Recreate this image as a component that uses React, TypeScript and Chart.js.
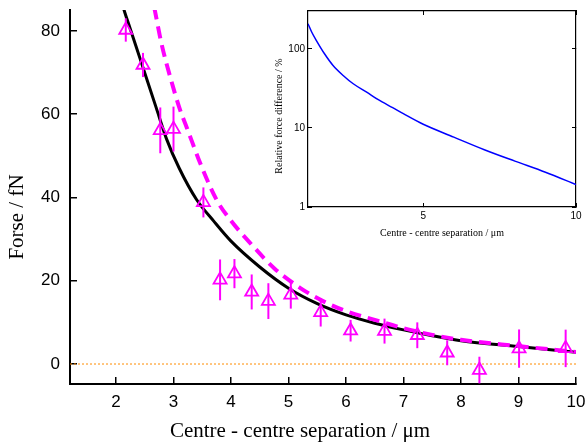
import React, { useEffect, useRef } from 'react';
import { Chart, registerables } from 'chart.js';

Chart.register(...registerables);

// ---- Main chart data ----
const sepX = [2.17, 2.47, 2.77, 3.0, 3.52, 3.81, 4.06, 4.36, 4.65, 5.04, 5.56, 6.08, 6.67, 7.24, 7.76, 8.32, 9.01, 9.82];
const forceY = [80.2, 71.8, 56.1, 56.4, 38.8, 20.2, 21.7, 17.3, 15.1, 16.6, 12.4, 8.0, 7.9, 6.9, 2.7, -1.45, 3.7, 3.75];
const forceErr = [2.8, 2.9, 5.5, 5.4, 3.6, 4.9, 3.5, 4.2, 4.3, 3.3, 3.4, 2.6, 3.0, 3.1, 3.0, 3.2, 4.6, 4.5];

const fitX = [2.1, 2.14, 2.24, 2.45, 2.7, 2.88, 3.1, 3.4, 3.7, 4.0, 4.5, 5.0, 5.5, 6.0, 6.5, 7.0, 7.5, 8.0, 9.0, 10.0];
const fitY = [87, 85, 80.8, 72, 61.5, 54, 47, 39.5, 34.3, 29.5, 23.3, 18.2, 14.5, 11.8, 9.8, 8.2, 6.8, 5.6, 4.2, 2.8];

const altX = [2.6, 2.66, 2.79, 2.97, 3.11, 3.23, 3.5, 3.75, 4.0, 4.35, 4.75, 5.2, 5.6, 6.0, 6.5, 7.0, 7.5, 8.0, 9.0, 10.0];
const altY = [90, 86, 77, 67.6, 61.2, 56.8, 47, 39.4, 34.4, 28.8, 23, 18.3, 15.1, 12.7, 10.6, 8.6, 7.0, 5.8, 4.3, 2.9];

const zeroLineY = 0;
const xTicks = [2, 3, 4, 5, 6, 7, 8, 9, 10];
const yTicks = [0, 20, 40, 60, 80];
const xRange = [1.2, 10];
const yRange = [-4.8, 85];

// ---- Inset data ----
const insetX = [1.23, 1.35, 1.505, 1.77, 2.05, 2.38, 2.71, 3.15, 3.53, 4.0, 4.35, 5.0, 6.0, 7.0, 8.0, 9.0, 10.0];
const insetY = [207, 163, 127, 86.5, 61.5, 46, 36.1, 28.3, 22.7, 18.0, 15.1, 11.1, 7.65, 5.3, 3.8, 2.75, 1.92];
const insetXTicks = [5, 10];
const insetYTicks = [1, 10, 100];
const insetXRange = [1.23, 10];
const insetYRange = [1, 300];

const MAGENTA = '#ff00ff';
const SANS = "'Liberation Sans', Arial, sans-serif";
const SERIF = "'Liberation Serif', 'Times New Roman', serif";

const errorBarPlugin = {
  id: 'errorBars',
  afterDatasetsDraw(chart: any) {
    const { ctx, scales } = chart;
    const x = scales.x;
    const y = scales.y;
    ctx.save();
    ctx.strokeStyle = MAGENTA;
    ctx.lineWidth = 2;
    sepX.forEach((v, i) => {
      const px = x.getPixelForValue(v);
      ctx.beginPath();
      ctx.moveTo(px, y.getPixelForValue(forceY[i] - forceErr[i]));
      ctx.lineTo(px, y.getPixelForValue(forceY[i] + forceErr[i]));
      ctx.stroke();
    });
    ctx.restore();
  },
};

// Axis titles placed where the original figure has them
const axisTitlesPlugin = {
  id: 'axisTitles',
  afterDraw(chart: any, _args: any, opts: any) {
    const items = (opts && opts.items) || [];
    const ctx = chart.ctx;
    items.forEach((it: any) => {
      ctx.save();
      ctx.translate(it.x, it.y);
      if (it.vertical) ctx.rotate(-Math.PI / 2);
      ctx.font = it.font;
      ctx.fillStyle = '#000';
      ctx.textAlign = 'center';
      ctx.textBaseline = 'middle';
      ctx.fillText(it.text, 0, 0);
      ctx.restore();
    });
  },
};

const pts = (xs: number[], ys: number[]) => xs.map((v, i) => ({ x: v, y: ys[i] }));

const fixSize = (w: number | null, h: number | null) => (s: any) => {
  if (w !== null) s.width = w;
  if (h !== null) s.height = h;
  s.paddingTop = 0;
  s.paddingBottom = 0;
  s.paddingLeft = 0;
  s.paddingRight = 0;
};

export default function App() {
  const mainRef = useRef<HTMLCanvasElement>(null);
  const insetRef = useRef<HTMLCanvasElement>(null);

  useEffect(() => {
    const main = new Chart(mainRef.current as HTMLCanvasElement, {
      type: 'line',
      data: {
        datasets: [
          {
            data: pts(sepX, forceY),
            showLine: false,
            pointStyle: 'triangle',
            pointRadius: 7.5,
            pointBorderWidth: 1.8,
            pointBorderColor: MAGENTA,
            pointBackgroundColor: 'rgba(0,0,0,0)',
            borderColor: MAGENTA,
            order: 0,
          },
          {
            data: pts(altX, altY),
            borderColor: MAGENTA,
            borderWidth: 4,
            borderDash: [12, 7],
            pointRadius: 0,
            cubicInterpolationMode: 'monotone',
            fill: false,
            order: 1,
          },
          {
            data: pts(fitX, fitY),
            borderColor: '#000',
            borderWidth: 3,
            pointRadius: 0,
            cubicInterpolationMode: 'monotone',
            fill: false,
            order: 2,
          },
          {
            data: [
              { x: xRange[0], y: zeroLineY },
              { x: xRange[1], y: zeroLineY },
            ],
            borderColor: '#ff8c00',
            borderWidth: 1,
            borderDash: [2, 2],
            pointRadius: 0,
            fill: false,
            order: 3,
          },
        ],
      } as any,
      options: {
        animation: false,
        responsive: false,
        layout: { padding: { top: 10, right: 11, left: 0, bottom: 0 } },
        plugins: {
          legend: { display: false },
          tooltip: { enabled: false },
          axisTitles: {
            items: [
              { text: 'Forse / fN', x: 17, y: 217, vertical: true, font: `21px ${SERIF}` },
              { text: 'Centre - centre separation / μm', x: 300, y: 431, vertical: false, font: `21px ${SERIF}` },
            ],
          },
        } as any,
        scales: {
          x: {
            type: 'linear',
            min: xRange[0],
            max: xRange[1],
            afterBuildTicks: (s: any) => {
              s.ticks = xTicks.map((v) => ({ value: v }));
            },
            afterFit: fixSize(null, 62),
            grid: { drawOnChartArea: false, tickLength: -7, color: '#000', lineWidth: 1.5 },
            border: { display: true, color: '#000', width: 2 },
            ticks: {
              color: '#000',
              font: { family: SANS, size: 17 },
              padding: 15,
              maxRotation: 0,
              autoSkip: false,
              callback: (v: any) => String(v),
            },
          },
          y: {
            type: 'linear',
            min: yRange[0],
            max: yRange[1],
            afterBuildTicks: (s: any) => {
              s.ticks = yTicks.map((v) => ({ value: v }));
            },
            afterFit: fixSize(70, null),
            grid: { drawOnChartArea: false, tickLength: -7, color: '#000', lineWidth: 1.5 },
            border: { display: true, color: '#000', width: 2 },
            ticks: {
              color: '#000',
              font: { family: SANS, size: 17 },
              padding: 17,
              callback: (v: any) => String(v),
            },
          },
        },
      } as any,
      plugins: [errorBarPlugin, axisTitlesPlugin],
    });

    const mirrorGrid = { drawOnChartArea: false, tickLength: -4, color: '#000', lineWidth: 1 };
    const inset = new Chart(insetRef.current as HTMLCanvasElement, {
      type: 'line',
      data: {
        datasets: [
          {
            data: pts(insetX, insetY),
            borderColor: '#0000ff',
            borderWidth: 1.5,
            pointRadius: 0,
            cubicInterpolationMode: 'monotone',
            fill: false,
          },
        ],
      } as any,
      options: {
        animation: false,
        responsive: false,
        layout: { padding: { top: 11, right: 11, left: 0, bottom: 0 } },
        plugins: {
          legend: { display: false },
          tooltip: { enabled: false },
          axisTitles: {
            items: [
              { text: 'Relative force difference / %', x: 9, y: 116, vertical: true, font: `10px ${SERIF}` },
            ],
          },
        } as any,
        scales: {
          x: {
            type: 'linear',
            position: 'bottom',
            min: insetXRange[0],
            max: insetXRange[1],
            afterBuildTicks: (s: any) => {
              s.ticks = insetXTicks.map((v) => ({ value: v }));
            },
            afterFit: fixSize(null, 53),
            grid: mirrorGrid,
            border: { display: true, color: '#000', width: 1.2 },
            ticks: {
              color: '#000',
              font: { family: SANS, size: 10 },
              padding: 7.5,
              maxRotation: 0,
              autoSkip: false,
              callback: (v: any) => String(v),
            },
            title: {
              display: true,
              text: 'Centre - centre separation / μm',
              color: '#000',
              font: { family: SERIF, size: 10 },
              padding: { top: 0, bottom: 21 },
            },
          },
          x2: {
            type: 'linear',
            position: 'top',
            min: insetXRange[0],
            max: insetXRange[1],
            afterBuildTicks: (s: any) => {
              s.ticks = insetXTicks.map((v) => ({ value: v }));
            },
            afterFit: fixSize(null, 0),
            grid: mirrorGrid,
            border: { display: true, color: '#000', width: 1.2 },
            ticks: { display: false },
          },
          y: {
            type: 'logarithmic',
            position: 'left',
            min: insetYRange[0],
            max: insetYRange[1],
            afterBuildTicks: (s: any) => {
              s.ticks = insetYTicks.map((v) => ({ value: v }));
            },
            afterFit: fixSize(38, null),
            grid: mirrorGrid,
            border: { display: true, color: '#000', width: 1.2 },
            ticks: {
              color: '#000',
              font: { family: SANS, size: 10 },
              padding: 7,
              autoSkip: false,
              callback: (v: any) => String(v),
            },
          },
          y2: {
            type: 'logarithmic',
            position: 'right',
            min: insetYRange[0],
            max: insetYRange[1],
            afterBuildTicks: (s: any) => {
              s.ticks = insetYTicks.map((v) => ({ value: v }));
            },
            afterFit: fixSize(0, null),
            grid: mirrorGrid,
            border: { display: true, color: '#000', width: 1.2 },
            ticks: { display: false },
          },
        },
      } as any,
      plugins: [axisTitlesPlugin],
    });

    return () => {
      main.destroy();
      inset.destroy();
    };
  }, []);

  return (
    <div style={{ position: 'absolute', left: 0, top: 0, width: 587, height: 446, background: '#fff' }}>
      <canvas
        ref={mainRef}
        width={587}
        height={446}
        style={{ position: 'absolute', left: 0, top: 0, width: 587, height: 446 }}
      />
      <canvas
        ref={insetRef}
        width={317}
        height={260}
        style={{ position: 'absolute', left: 270, top: 0, width: 317, height: 260 }}
      />
    </div>
  );
}
